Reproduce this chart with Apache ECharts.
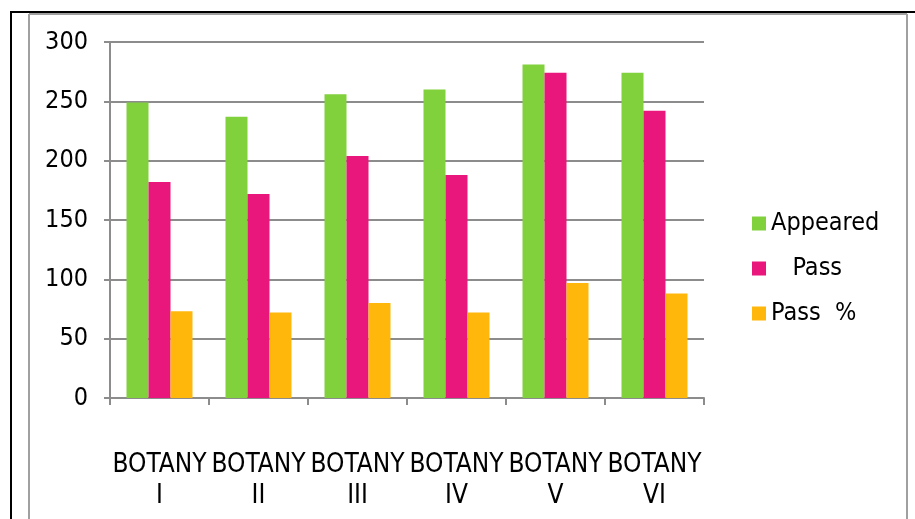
<!DOCTYPE html>
<html>
<head>
<meta charset="utf-8">
<script src="https://cdn.jsdelivr.net/npm/echarts@6/dist/echarts.min.js"></script>
<style>
html,body{margin:0;padding:0;background:#fff;}
#chart{width:915px;height:519px;}
</style>
</head>
<body>
<div id="chart"></div>
<script>
const categories = ['BOTANY\nI', 'BOTANY\nII', 'BOTANY\nIII', 'BOTANY\nIV', 'BOTANY\nV', 'BOTANY\nVI'];
const appeared = [249, 237, 256, 260, 281, 274];
const pass = [182, 172, 204, 188, 274, 242];
const passPct = [73, 72, 80, 72, 97, 88];
const yTicks = [0, 50, 100, 150, 200, 250, 300];

const FONT = '"DejaVu Sans Condensed", "DejaVu Sans", sans-serif';
const GRID_GRAY = '#8c8c8c';
const legendLabels = { 'Appeared': 'Appeared', 'Pass': '   Pass', 'Pass %': 'Pass  %' };

const chart = echarts.init(document.getElementById('chart'), null, { renderer: 'canvas' });
chart.setOption({
  animation: false,
  backgroundColor: '#ffffff',
  textStyle: { fontFamily: FONT },
  grid: { left: 110, right: 211, top: 42, bottom: 121 },
  legend: {
    orient: 'vertical',
    left: 747,
    top: 206,
    itemWidth: 14,
    itemHeight: 14,
    itemGap: 20,
    itemTextGap: 7,
    icon: 'rect',
    textStyle: { fontFamily: FONT, fontSize: 25, color: '#000' },
    formatter: n => legendLabels[n] || n,
    data: ['Appeared', 'Pass', 'Pass %']
  },
  xAxis: {
    type: 'category',
    data: categories,
    axisLine: { lineStyle: { color: GRID_GRAY, width: 2 } },
    axisTick: { show: true, alignWithLabel: false, length: 7, lineStyle: { color: GRID_GRAY, width: 2 } },
    axisLabel: {
      interval: 0, margin: 52, fontFamily: FONT, fontSize: 26, color: '#000', lineHeight: 31
    },
    splitLine: { show: false }
  },
  yAxis: {
    type: 'value',
    min: yTicks[0],
    max: yTicks[yTicks.length - 1],
    interval: yTicks[1] - yTicks[0],
    axisLine: { show: true, lineStyle: { color: GRID_GRAY, width: 2 } },
    axisTick: { show: true, length: 6, lineStyle: { color: GRID_GRAY, width: 2 } },
    axisLabel: { margin: 22, fontFamily: FONT, fontSize: 25, color: '#000' },
    splitLine: { show: true, lineStyle: { color: GRID_GRAY, width: 2 } }
  },
  series: [
    { name: 'Appeared', type: 'bar', data: appeared, barWidth: 22, barGap: '0%',
      itemStyle: { color: '#80d13c' } },
    { name: 'Pass', type: 'bar', data: pass, barWidth: 22, barGap: '0%',
      itemStyle: { color: '#e9177b' } },
    { name: 'Pass %', type: 'bar', data: passPct, barWidth: 22, barGap: '0%',
      itemStyle: { color: '#ffb70c' } }
  ],
  graphic: [
    { type: 'line', shape: { x1: 10, y1: 12, x2: 915, y2: 12 }, style: { stroke: '#000', lineWidth: 2 } },
    { type: 'line', shape: { x1: 11, y1: 12, x2: 11, y2: 519 }, style: { stroke: '#000', lineWidth: 2 } },
    { type: 'line', shape: { x1: 29, y1: 14, x2: 907, y2: 14 }, style: { stroke: '#a0a0a0', lineWidth: 2 } },
    { type: 'line', shape: { x1: 29, y1: 14, x2: 29, y2: 519 }, style: { stroke: '#a0a0a0', lineWidth: 2 } },
    { type: 'line', shape: { x1: 907, y1: 14, x2: 907, y2: 519 }, style: { stroke: '#a0a0a0', lineWidth: 2 } }
  ]
});
</script>
</body>
</html>
